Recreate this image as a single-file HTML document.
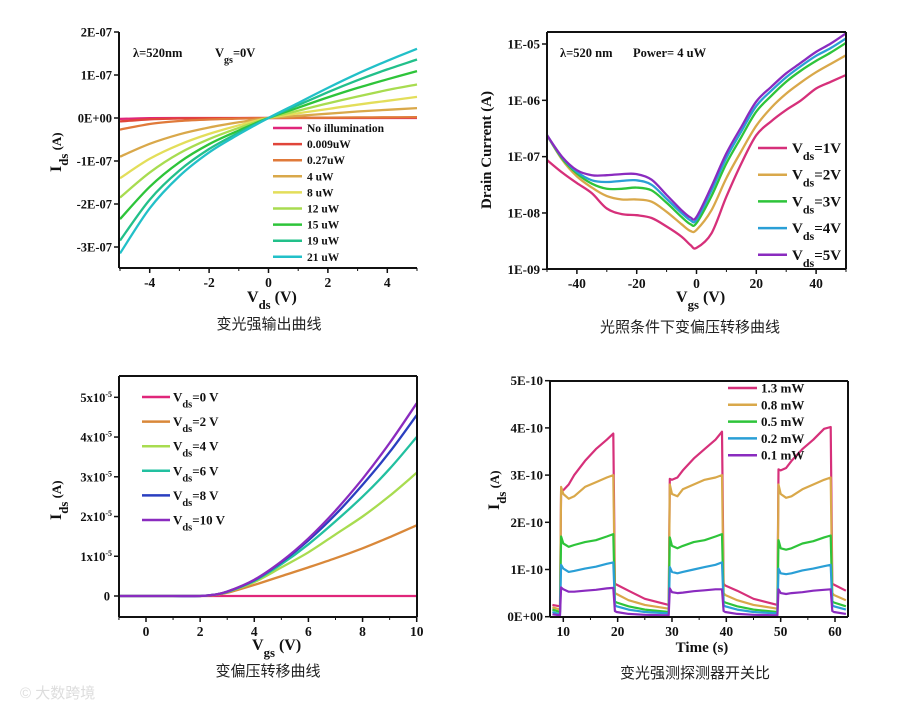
<!DOCTYPE html>
<html><head><meta charset="utf-8"><style>
html,body{margin:0;padding:0;background:#fff;}
svg{display:block;font-family:"Liberation Serif",serif;}
.cap{font-family:"Liberation Sans","Noto Sans CJK SC",sans-serif;font-size:15px;fill:#222;}
</style></head><body>
<svg id="fig" width="912" height="712" viewBox="0 0 912 712" xmlns="http://www.w3.org/2000/svg">
<text x="20" y="698" font-family="Liberation Sans,Noto Sans CJK SC,sans-serif" font-size="15" fill="#ddd">© 大数跨境</text>
</svg>
<script>
// ---------- Panel A data (units 1e-7 A) ----------
const aVds=[-5,-4,-3,-2,-1,0,1,2,3,4,5];
const aLabels=["No illumination","0.009uW","0.27uW","4 uW","8 uW","12 uW","15 uW","19 uW","21 uW"];
const aNoIllum=[-0.02,-0.005,0,0,0,0,0,0,0,0,0];
const a0009=[-0.08,-0.03,-0.012,-0.005,-0.002,0,0.002,0.004,0.006,0.008,0.01];
const a027=[-0.27,-0.14,-0.07,-0.035,-0.015,0,0.005,0.01,0.013,0.017,0.02];
const a4=[-0.9,-0.6,-0.38,-0.22,-0.1,0,0.05,0.1,0.15,0.19,0.23];
const a8=[-1.4,-0.95,-0.62,-0.37,-0.17,0,0.11,0.21,0.31,0.4,0.49];
const a12=[-1.85,-1.27,-0.82,-0.49,-0.23,0,0.17,0.34,0.5,0.65,0.78];
const a15=[-2.35,-1.6,-1.03,-0.61,-0.29,0,0.24,0.48,0.7,0.9,1.09];
const a19=[-2.85,-1.9,-1.22,-0.72,-0.34,0,0.3,0.6,0.88,1.13,1.36];
const a21=[-3.15,-2.1,-1.35,-0.8,-0.38,0,0.35,0.7,1.03,1.33,1.61];
const aYTicks=[2,1,0,-1,-2,-3];
const aYTickLabels=["2E-07","1E-07","0E+00","-1E-07","-2E-07","-3E-07"];
const aXTicks=[-4,-2,0,2,4];
// ---------- Panel B data (log10 A) ----------
const bVgs=[-50,-45,-40,-35,-30,-25,-20,-15,-10,-5,-2,0,5,10,15,20,25,30,35,40,45,50];
const bLabels=["1V","2V","3V","4V","5V"];
const bVds1=[-7.06,-7.28,-7.47,-7.65,-7.92,-8.02,-8.04,-8.09,-8.24,-8.42,-8.57,-8.62,-8.36,-7.71,-7.12,-6.62,-6.37,-6.17,-6.0,-5.79,-5.67,-5.55];
const bVds2=[-6.62,-7.05,-7.35,-7.55,-7.7,-7.76,-7.76,-7.8,-7.98,-8.2,-8.32,-8.3,-7.95,-7.38,-6.9,-6.45,-6.13,-5.88,-5.68,-5.5,-5.35,-5.2];
const bVds3=[-6.62,-7.03,-7.3,-7.48,-7.57,-7.57,-7.55,-7.6,-7.82,-8.07,-8.2,-8.18,-7.7,-7.12,-6.65,-6.2,-5.92,-5.67,-5.47,-5.3,-5.15,-4.98];
const bVds4=[-6.62,-7.01,-7.27,-7.42,-7.45,-7.43,-7.42,-7.5,-7.75,-8.0,-8.13,-8.12,-7.6,-7.02,-6.55,-6.1,-5.83,-5.59,-5.39,-5.21,-5.07,-4.9];
const bVds5=[-6.62,-7.0,-7.24,-7.33,-7.33,-7.31,-7.31,-7.41,-7.68,-7.95,-8.08,-8.07,-7.53,-6.94,-6.47,-6.02,-5.76,-5.52,-5.33,-5.14,-4.99,-4.81];
const bYTicks=[-5,-6,-7,-8,-9];
const bYTickLabels=["1E-05","1E-06","1E-07","1E-08","1E-09"];
const bXTicks=[-40,-20,0,20,40];
// ---------- Panel C data (units 1e-5 A) ----------
const cVgs=[-1,0,1,2,2.5,3,4,5,6,7,8,9,10];
const cLabels=["0 V","2 V","4 V","6 V","8 V","10 V"];
const cVds0=[0,0,0,0,0,0,0,0,0,0,0,0,0];
const cVds2=[0,0,0,0,0.02,0.08,0.28,0.5,0.72,0.95,1.2,1.48,1.78];
const cVds4=[0,0,0,0,0.03,0.1,0.35,0.72,1.1,1.55,2.0,2.52,3.1];
const cVds6=[0,0,0,0,0.03,0.1,0.38,0.8,1.3,1.88,2.5,3.2,4.0];
const cVds8=[0,0,0,0,0.03,0.11,0.4,0.85,1.4,2.05,2.8,3.62,4.55];
const cVds10=[0,0,0,0,0.03,0.11,0.41,0.87,1.45,2.15,2.95,3.85,4.85];
const cYTicks=[5,4,3,2,1,0];
const cXTicks=[0,2,4,6,8,10];
// ---------- Panel D data (units 1e-10 A) ----------
const dTime=[8,9.4,9.6,10,11,12,14,16,18,19.2,19.5,19.8,22,25,29.4,29.6,30,31,32,34,36,38,39.2,39.5,39.8,42,45,49.4,49.6,50,51,52,54,56,58,59.2,59.5,59.8,62];
const dLabels=["1.3 mW","0.8 mW","0.5 mW","0.2 mW","0.1 mW"];
const d13=[0.25,0.22,2.7,2.68,2.8,3.0,3.3,3.55,3.75,3.88,0.7,0.68,0.55,0.38,0.25,2.92,2.9,2.95,3.1,3.35,3.55,3.75,3.92,0.7,0.66,0.55,0.38,0.25,3.12,3.1,3.15,3.3,3.55,3.75,3.98,4.02,0.7,0.68,0.55];
const d08=[0.2,0.15,2.75,2.6,2.5,2.55,2.75,2.85,2.95,3.0,0.5,0.48,0.35,0.25,0.17,2.8,2.6,2.55,2.7,2.8,2.9,2.95,3.0,0.5,0.46,0.35,0.25,0.17,2.8,2.6,2.52,2.55,2.7,2.8,2.9,2.95,0.5,0.46,0.35];
const d05=[0.15,0.1,1.7,1.55,1.48,1.52,1.58,1.62,1.7,1.75,0.32,0.3,0.22,0.15,0.1,1.68,1.5,1.45,1.5,1.58,1.62,1.7,1.75,0.32,0.3,0.22,0.15,0.1,1.62,1.45,1.42,1.45,1.55,1.6,1.68,1.72,0.32,0.3,0.22];
const d02=[0.1,0.05,1.1,1.02,0.95,0.97,1.02,1.06,1.12,1.15,0.25,0.22,0.15,0.1,0.07,1.05,0.95,0.92,0.95,1.0,1.05,1.1,1.15,0.25,0.22,0.15,0.1,0.07,1.02,0.92,0.9,0.92,0.98,1.02,1.07,1.1,0.25,0.22,0.15];
const d01=[0.05,0.03,0.62,0.58,0.53,0.53,0.55,0.57,0.6,0.61,0.12,0.1,0.06,0.04,0.03,0.6,0.52,0.5,0.51,0.54,0.56,0.58,0.58,0.12,0.1,0.06,0.04,0.03,0.58,0.5,0.48,0.5,0.52,0.55,0.57,0.58,0.12,0.1,0.06];
const dYTicks=[5,4,3,2,1,0];
const dYTickLabels=["5E-10","4E-10","3E-10","2E-10","1E-10","0E+00"];
const dXTicks=[10,20,30,40,50,60];

const NS="http://www.w3.org/2000/svg";
const svg=document.getElementById('fig');
function mk(tag,attrs,parent){const e=document.createElementNS(NS,tag);for(const k in attrs)e.setAttribute(k,attrs[k]);(parent||svg).appendChild(e);return e;}
function lin(d0,d1,r0,r1){return v=>r0+(v-d0)*(r1-r0)/(d1-d0);}
function smooth(pts){let d="M"+pts[0][0].toFixed(1)+","+pts[0][1].toFixed(1);
 for(let i=0;i<pts.length-1;i++){const p0=pts[i-1]||pts[i],p1=pts[i],p2=pts[i+1],p3=pts[i+2]||p2;
  const c1=[p1[0]+(p2[0]-p0[0])/6,p1[1]+(p2[1]-p0[1])/6],c2=[p2[0]-(p3[0]-p1[0])/6,p2[1]-(p3[1]-p1[1])/6];
  d+=" C"+c1[0].toFixed(1)+","+c1[1].toFixed(1)+" "+c2[0].toFixed(1)+","+c2[1].toFixed(1)+" "+p2[0].toFixed(1)+","+p2[1].toFixed(1);}
 return d;}
function polyl(pts){return "M"+pts.map(p=>p[0].toFixed(1)+","+p[1].toFixed(1)).join(" L");}
function txt(x,y,s,attrs,parent){const t=mk('text',Object.assign({x:x,y:y,'font-weight':'bold','font-size':13,fill:'#111'},attrs||{}),parent);t.textContent=s;return t;}
function sub(t,s){const ts=document.createElementNS(NS,'tspan');ts.setAttribute('baseline-shift','sub');ts.setAttribute('font-size','0.8em');ts.textContent=s;t.appendChild(ts);return ts;}
function tsp(t,s,attrs){const ts=document.createElementNS(NS,'tspan');for(const k in (attrs||{}))ts.setAttribute(k,attrs[k]);ts.textContent=s;t.appendChild(ts);return ts;}

function frame(g,L,R,T,B,full){
 mk('line',{x1:L,y1:B,x2:R,y2:B,stroke:'#111','stroke-width':2},g);
 mk('line',{x1:L,y1:T,x2:L,y2:B,stroke:'#111','stroke-width':2},g);
 if(full){mk('line',{x1:L,y1:T,x2:R,y2:T,stroke:'#111','stroke-width':2},g);mk('line',{x1:R,y1:T,x2:R,y2:B,stroke:'#111','stroke-width':2},g);}
}
function xticks(g,ticks,xs,B,labels,minorStep,xmin,xmax){
 ticks.forEach((v,i)=>{mk('line',{x1:xs(v),y1:B,x2:xs(v),y2:B+5,stroke:'#111','stroke-width':1.5},g);
  const t=txt(xs(v),B+19,labels?labels[i]:String(v),{'text-anchor':'middle','font-size':13.5},g);
  });
 if(minorStep){for(let v=Math.ceil(xmin/minorStep)*minorStep;v<=xmax;v+=minorStep){mk('line',{x1:xs(v),y1:B,x2:xs(v),y2:B+3,stroke:'#111','stroke-width':1},g);}}
}
function yticks(g,ticks,ys,L,labels,fs){
 ticks.forEach((v,i)=>{mk('line',{x1:L-5,y1:ys(v),x2:L,y2:ys(v),stroke:'#111','stroke-width':1.5},g);
  const t=txt(L-7,ys(v)+4.5,labels[i],{'text-anchor':'end','font-size':fs||13},g);
  });
}
function caption(x,y,s,name){const t=mk('text',{x:x,y:y,'text-anchor':'middle',class:'cap'});t.textContent=s;}

// ===== Panel A =====
(function(){
 const g=mk('g',{});
 const L=119,R=417,T=32,B=268;
 const xs=lin(-5,5,L+1,R),ys=lin(0,1,118,75);
 const series=[aNoIllum,a0009,a027,a4,a8,a12,a15,a19,a21];
 const cols=["#e0267a","#e0453a","#e07a3a","#d9a84a","#e3de5a","#a8dc50","#2ec43a","#22c08a","#22c0c8"];
 series.forEach((s,k)=>{const p=mk('path',{d:smooth(aVds.map((v,i)=>[xs(v),ys(s[i])])),fill:'none',stroke:cols[k],'stroke-width':2.3},g);
  });
 frame(g,L,R,T,B,false);
 yticks(g,aYTicks,ys,L,aYTickLabels,12.5);
 xticks(g,aXTicks,xs,B,null,1,-5,5);
 aLabels.forEach((lab,k)=>{const y=128+k*16.1;mk('line',{x1:273,y1:y,x2:302,y2:y,stroke:cols[k],'stroke-width':2.5},g);
  const t=txt(307,y+4,lab,{'font-size':11.5},g);});
 const a1=txt(133,57,"λ=520nm",{'font-size':12.5},g);
 const a2=txt(215,57,"V",{'font-size':12.5},g);sub(a2,"gs");tsp(a2,"=0V");
 const xt=txt(247,302,"V",{'font-size':16},g);sub(xt,"ds");tsp(xt," (V)");
 const yt=txt(0,0,"I",{'font-size':16,transform:'translate(61,172) rotate(-90)'},g);sub(yt,"ds");tsp(yt," (A)",{'font-size':'13'});
})();
caption(269,329,"变光强输出曲线","caption-output-curves");

// ===== Panel B =====
(function(){
 const g=mk('g',{});
 const L=547,R=846,T=32,B=269;
 const xs=lin(-50,50,L,R),ys=lin(-5,-9,44,269.3);
 const series=[bVds1,bVds2,bVds3,bVds4,bVds5];
 const cols=["#d6307a","#d9a84a","#2ec43a","#2a9fd6","#8a2bbf"];
 series.forEach((s,k)=>{const p=mk('path',{d:smooth(bVgs.map((v,i)=>[xs(v),ys(s[i])])),fill:'none',stroke:cols[k],'stroke-width':2.3},g);
  });
 frame(g,L,R,T,B,true);
 yticks(g,bYTicks,ys,L,bYTickLabels,13);
 xticks(g,bXTicks,xs,B,null,10,-50,50);
 bLabels.forEach((lab,k)=>{const y=148+k*26.7;mk('line',{x1:758,y1:y,x2:787,y2:y,stroke:cols[k],'stroke-width':2.5},g);
  const t=txt(792,y+5,"V",{'font-size':15},g);sub(t,"ds");tsp(t,"="+lab);});
 const a=txt(560,57,"λ=520 nm",{'font-size':12.5},g);
 const a3=txt(633,57,"Power= 4 uW",{'font-size':12.5},g);
 const xt=txt(676,302,"V",{'font-size':16},g);sub(xt,"gs");tsp(xt," (V)");
 const yt=txt(0,0,"Drain Current (A)",{'font-size':15,'text-anchor':'middle',transform:'translate(491,150) rotate(-90)'},g);
})();
caption(690,332,"光照条件下变偏压转移曲线","caption-transfer-log");

// ===== Panel C =====
(function(){
 const g=mk('g',{});
 const L=119,R=417,T=376,B=617;
 const xs=lin(0,10,146,416.7),ys=lin(0,5,596,397.3);
 const series=[cVds0,cVds2,cVds4,cVds6,cVds8,cVds10];
 const cols=["#e0267a","#d9883a","#a8dc50","#22c0a0","#2a3fc0","#8a2bbf"];
 series.forEach((s,k)=>{const p=mk('path',{d:smooth(cVgs.map((v,i)=>[xs(v),ys(s[i])])),fill:'none',stroke:cols[k],'stroke-width':2.3},g);
  });
 frame(g,L,R,T,B,true);
 cYTicks.forEach(v=>{mk('line',{x1:L-5,y1:ys(v),x2:L,y2:ys(v),stroke:'#111','stroke-width':1.5},g);
  let t;if(v===0){t=txt(L-9,ys(v)+4.5,"0",{'text-anchor':'end','font-size':12.5},g);}
  else{t=txt(L-7,ys(v)+4.5,v+"x10",{'text-anchor':'end','font-size':12.5},g);tsp(t,"-5",{'font-size':'8',dy:'-5'});}
  });
 xticks(g,cXTicks,xs,B,null,1,-1,10);
 cLabels.forEach((lab,k)=>{const y=397+k*24.6;mk('line',{x1:142,y1:y,x2:170,y2:y,stroke:cols[k],'stroke-width':2.5},g);
  const t=txt(173,y+4.5,"V",{'font-size':13},g);sub(t,"ds");tsp(t,"="+lab);});
 const xt=txt(252,650,"V",{'font-size':16},g);sub(xt,"gs");tsp(xt," (V)");
 const yt=txt(0,0,"I",{'font-size':16,transform:'translate(61,520) rotate(-90)'},g);sub(yt,"ds");tsp(yt," (A)",{'font-size':'13'});
})();
caption(268,676,"变偏压转移曲线","caption-transfer-linear");

// ===== Panel D =====
(function(){
 const g=mk('g',{});
 const L=550,R=848,T=381,B=617;
 const xs=lin(10,60,563.3,835),ys=lin(0,5,616.7,380.7);
 const series=[d13,d08,d05,d02,d01];
 const cols=["#d6307a","#d9a84a","#2ec43a","#2a9fd6","#8a2bbf"];
 series.forEach((s,k)=>{const p=mk('path',{d:polyl(dTime.map((v,i)=>[xs(v),ys(s[i])])),fill:'none',stroke:cols[k],'stroke-width':2.2,'stroke-linejoin':'round'},g);
  });
 frame(g,L,R,T,B,true);
 yticks(g,dYTicks,ys,L,dYTickLabels,13);
 xticks(g,dXTicks,xs,B,null,5,10,60);
 dLabels.forEach((lab,k)=>{const y=388+k*16.8;mk('line',{x1:728,y1:y,x2:757,y2:y,stroke:cols[k],'stroke-width':2.5},g);
  const t=txt(761,y+4.5,lab,{'font-size':13},g);});
 const xt=txt(702,652,"Time (s)",{'font-size':15,'text-anchor':'middle'},g);
 const yt=txt(0,0,"I",{'font-size':16,transform:'translate(499,510) rotate(-90)'},g);sub(yt,"ds");tsp(yt," (A)",{'font-size':'13'});
})();
caption(695,678,"变光强测探测器开关比","caption-on-off-response");
</script>
</body></html>
